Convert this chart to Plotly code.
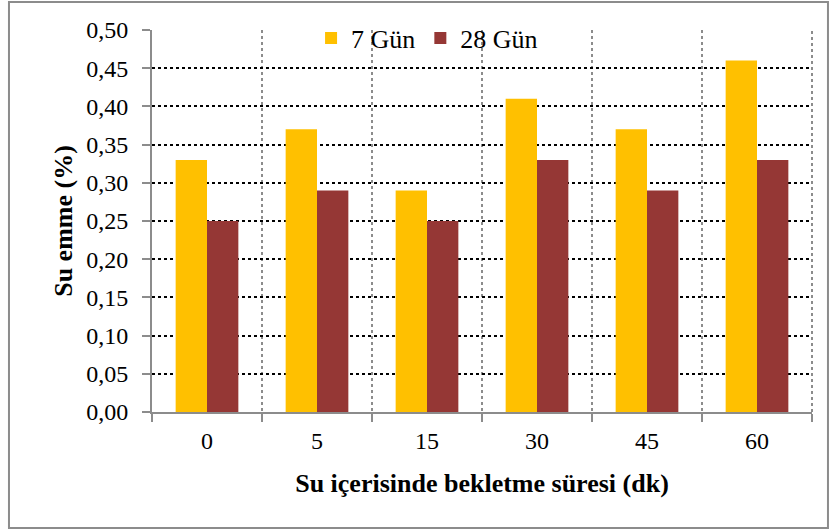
import plotly.graph_objects as go

categories = ["0", "5", "15", "30", "45", "60"]
gun7 = [0.33, 0.37, 0.29, 0.41, 0.37, 0.46]
gun28 = [0.25, 0.29, 0.25, 0.33, 0.29, 0.33]
y_ticks = [0.0, 0.05, 0.10, 0.15, 0.20, 0.25, 0.30, 0.35, 0.40, 0.45, 0.50]

FONT = "Liberation Serif, Times New Roman, serif"

fig = go.Figure()
fig.add_trace(go.Bar(x=categories, y=gun7, name="7 Gün",
                     marker=dict(color="#FFC000", line=dict(width=0))))
fig.add_trace(go.Bar(x=categories, y=gun28, name="28 Gün",
                     marker=dict(color="#953735", line=dict(width=0))))

fig.update_layout(
    width=830, height=530,
    margin=dict(l=152, r=18, t=30, b=118, autoexpand=False),
    paper_bgcolor="white", plot_bgcolor="white",
    separators=",.",
    barmode="group", bargap=0.43, bargroupgap=0,
    font=dict(family=FONT, size=24, color="black"),
    showlegend=True,
    legend=dict(orientation="h", x=0.241, xanchor="left", y=1.04, yanchor="top",
                bgcolor="rgba(0,0,0,0)", font=dict(size=26, family=FONT),
                itemwidth=30, traceorder="normal"),
    xaxis=dict(
        type="category", tickson="boundaries",
        showline=True, linecolor="#8c8c8c", linewidth=2,
        ticks="outside", ticklen=8, tickcolor="#8c8c8c", tickwidth=2,
        showgrid=True, gridcolor="#8c8c8c", griddash="dot", gridwidth=2,
        tickfont=dict(size=24, family=FONT), ticklabelstandoff=6,
        title=dict(text="<b>Su içerisinde bekletme süresi (dk)</b>",
                   font=dict(size=26, family=FONT), standoff=21),
    ),
    yaxis=dict(
        range=[0, 0.5], tickvals=y_ticks, tickformat=".2f",
        showline=True, linecolor="#8c8c8c", linewidth=2,
        ticks="outside", ticklen=8, tickcolor="#8c8c8c", tickwidth=2,
        showgrid=True, gridcolor="black", griddash="dot", gridwidth=2,
        zeroline=False,
        tickfont=dict(size=24, family=FONT), ticklabelstandoff=9,
        title=dict(text="<b>Su emme (%)</b>", font=dict(size=26, family=FONT), standoff=6),
    ),
)

# right boundary dotted line (plot area edge)
fig.add_shape(type="line", xref="paper", yref="paper", x0=1, x1=1, y0=0, y1=1,
              line=dict(color="#8c8c8c", width=2, dash="dot"), layer="below")
# outer chart border
fig.add_shape(type="rect", xref="paper", yref="paper",
              x0=-0.2167, x1=1.0242, y0=-0.3037, y1=1.073,
              line=dict(color="#8c8c8c", width=2), fillcolor="rgba(0,0,0,0)")

fig.write_html("out.html", config={"displayModeBar": False},
               post_script="document.body.style.margin='0';document.body.style.padding='0';")
